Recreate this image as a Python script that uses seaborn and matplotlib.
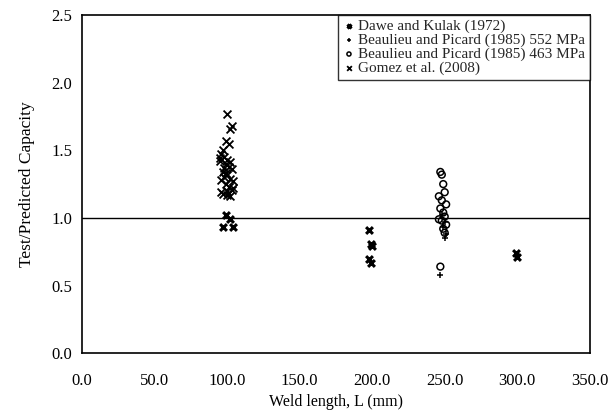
import numpy as np
import pandas as pd
import matplotlib
matplotlib.use("Agg")
import matplotlib.pyplot as plt
import seaborn as sns

# --- data ---
dawe_x = [99, 102, 97, 104, 198, 199, 200, 198, 199, 299, 300]
dawe_y = [1.02, 0.99, 0.93, 0.93, 0.91, 0.81, 0.79, 0.70, 0.67, 0.74, 0.71]

b552_x = [248, 250, 249, 251, 250, 247]
b552_y = [1.02, 0.97, 0.93, 0.88, 0.85, 0.58]

b463_x = [247, 248, 249, 250, 246, 248, 251, 247, 249, 250, 248, 251, 246, 249, 250, 247]
b463_y = [1.34, 1.32, 1.25, 1.19, 1.16, 1.13, 1.10, 1.07, 1.04, 1.01, 0.98, 0.95, 0.99, 0.92, 0.89, 0.64]

gomez_x = [100, 103, 102, 99, 101, 97, 96, 98, 100, 102, 99, 101, 103, 95, 97, 100,
           98, 102, 104, 96, 99, 101, 100, 103, 97, 95, 98, 102, 100, 104, 99, 96]
gomez_y = [1.77, 1.68, 1.66, 1.57, 1.55, 1.50, 1.47, 1.45, 1.43, 1.41, 1.40, 1.38, 1.36, 1.44, 1.34, 1.32,
           1.30, 1.29, 1.27, 1.28, 1.25, 1.23, 1.20, 1.21, 1.18, 1.42, 1.37, 1.16, 1.17, 1.22, 1.33, 1.19]

labels = ["Dawe and Kulak (1972)",
          "Beaulieu and Picard (1985) 552 MPa",
          "Beaulieu and Picard (1985) 463 MPa",
          "Gomez et al. (2008)"]

sns.set_theme(style="white")
plt.rcParams['font.family'] = ['Liberation Serif', 'DejaVu Serif']

fig = plt.figure(figsize=(6.13, 4.17), dpi=100)
ax = fig.add_axes([0.134, 0.153, 0.828, 0.811])

ax.axhline(1.0, color="black", lw=1.0, zorder=1)

sns.scatterplot(x=dawe_x, y=dawe_y, ax=ax, marker="x", color="black", s=24,
                linewidth=2.2, label=labels[0], zorder=3)
sns.scatterplot(x=b552_x, y=b552_y, ax=ax, marker="+", color="black", s=24,
                linewidth=1.1, label=labels[1], zorder=3)
sns.scatterplot(x=b463_x, y=b463_y, ax=ax, marker="o", facecolor="none", edgecolor="black",
                s=24, linewidth=1.1, label=labels[2], zorder=3)
sns.scatterplot(x=gomez_x, y=gomez_y, ax=ax, marker="x", color="black", s=32,
                linewidth=1.3, label=labels[3], zorder=3)

ax.set_xlim(0, 350)
ax.set_ylim(0, 2.5)
ax.set_xticks(np.arange(0, 351, 50))
ax.set_yticks(np.arange(0, 2.51, 0.5))
ax.set_xticklabels([f"{v:.1f}" for v in np.arange(0, 351, 50)])
ax.set_yticklabels([f"{v:.1f}" for v in np.arange(0, 2.51, 0.5)])
ax.tick_params(direction="in", length=4, width=1, colors="black", labelsize=12, pad=7)
ax.tick_params(axis="x", pad=14)

for sp in ax.spines.values():
    sp.set_color("black")
    sp.set_linewidth(1.2)

ax.set_xlabel("Weld length, L (mm)", fontsize=11.5, color="black", labelpad=4)
ax.set_ylabel("Test/Predicted Capacity", fontsize=12.5, color="black", labelpad=12)

leg = ax.legend(loc="upper right", fontsize=11, frameon=True, fancybox=False,
                edgecolor="black", borderaxespad=0, labelspacing=0.0,
                handletextpad=0.2, handlelength=0.8, borderpad=0.3, markerscale=0.6)
leg.get_frame().set_linewidth(1.0)

fig.savefig("out.png", dpi=100)
